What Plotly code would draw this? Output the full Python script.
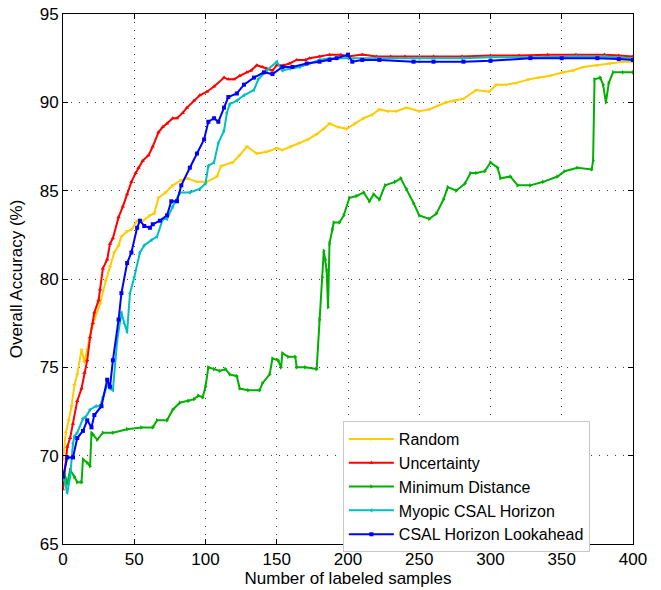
import plotly.graph_objects as go

# ---- data ----
random_x = [0, 2, 4, 6, 8, 10, 13, 15, 17, 20, 22, 26, 30, 33, 36, 39, 41, 45, 48, 52, 56, 61, 64, 67, 72, 77, 83, 87, 94, 101, 108, 111, 119, 124, 129, 136, 143, 150, 154, 160, 166, 172, 178, 183, 187, 193, 199, 205, 211, 217, 222, 228, 234, 241, 250, 257, 263, 269, 275, 281, 290, 299, 304, 311, 318, 327, 334, 342, 351, 358, 365, 375, 384, 393, 400]
random_y = [69.8, 71.3, 72.0, 72.8, 74.0, 74.6, 76.0, 75.3, 76.0, 77.2, 77.7, 78.6, 79.9, 80.7, 81.5, 81.9, 82.4, 82.7, 82.8, 83.3, 83.3, 83.6, 83.7, 84.6, 84.9, 85.3, 85.6, 85.7, 85.5, 85.5, 85.8, 86.4, 86.6, 87.0, 87.5, 87.1, 87.2, 87.4, 87.3, 87.5, 87.7, 87.9, 88.2, 88.5, 88.8, 88.6, 88.5, 88.8, 89.1, 89.3, 89.6, 89.5, 89.5, 89.7, 89.5, 89.6, 89.8, 90.0, 90.1, 90.2, 90.7, 90.6, 91.0, 91.0, 91.1, 91.3, 91.4, 91.5, 91.7, 91.8, 92.0, 92.1, 92.2, 92.3, 92.3]

unc_x = [0, 1, 3, 5, 7, 10, 13, 15, 17, 19, 21, 22, 25, 26, 28, 31, 33, 35, 39, 42, 45, 48, 51, 53, 56, 60, 63, 67, 70, 73, 77, 80, 84, 87, 92, 96, 101, 106, 113, 116, 120, 124, 129, 132, 136, 140, 143, 147, 150, 155, 159, 164, 170, 173, 180, 187, 195, 200, 210, 220, 230, 240, 260, 280, 300, 320, 340, 360, 380, 390, 400]
unc_y = [68.1, 68.8, 70.5, 71.0, 71.8, 73.1, 73.8, 74.7, 75.4, 76.7, 77.5, 78.1, 78.8, 79.4, 80.6, 81.1, 82.0, 82.3, 83.5, 84.1, 84.8, 85.5, 86.0, 86.3, 86.7, 87.0, 87.5, 88.3, 88.6, 88.8, 89.1, 89.1, 89.4, 89.7, 90.1, 90.4, 90.6, 90.9, 91.4, 91.3, 91.3, 91.5, 91.7, 91.8, 92.1, 92.0, 91.9, 91.8, 92.1, 92.1, 92.2, 92.4, 92.4, 92.5, 92.6, 92.7, 92.7, 92.6, 92.7, 92.6, 92.6, 92.6, 92.6, 92.6, 92.65, 92.65, 92.7, 92.7, 92.7, 92.65, 92.6]

mind_x = [0, 1, 3, 5, 8, 10, 13, 14, 17, 19, 20, 21, 24, 28, 35, 45, 55, 63, 66, 73, 77, 82, 88, 92, 95, 98, 100, 102, 106, 110, 114, 117, 122, 124, 130, 138, 140, 145, 147, 151, 153, 154, 158, 163, 164, 170, 178, 180, 182, 183, 184, 185, 186, 187, 189, 190, 194, 197, 201, 206, 211, 215, 218, 222, 226, 233, 237, 241, 246, 250, 257, 262, 267, 270, 276, 282, 286, 290, 296, 300, 305, 307, 314, 319, 328, 337, 347, 352, 361, 371, 372, 373, 377, 379, 381, 383, 386, 393, 400]
mind_y = [68.6, 69.0, 68.4, 69.2, 68.8, 68.5, 68.5, 69.8, 69.6, 69.4, 71.3, 71.2, 70.9, 71.3, 71.3, 71.5, 71.6, 71.6, 72.0, 72.0, 72.6, 73.0, 73.1, 73.2, 73.4, 73.3, 73.9, 75.0, 74.9, 74.8, 74.9, 74.6, 74.5, 73.8, 73.7, 73.7, 74.1, 74.6, 75.5, 75.4, 75.0, 75.8, 75.6, 75.6, 75.0, 75.0, 74.9, 77.7, 80.1, 81.6, 81.1, 80.5, 78.4, 82.0, 82.8, 83.2, 83.2, 83.6, 84.6, 84.7, 84.9, 84.4, 84.8, 84.5, 85.3, 85.5, 85.7, 85.1, 84.3, 83.6, 83.4, 83.7, 84.5, 85.2, 85.0, 85.4, 86.0, 86.0, 86.1, 86.6, 86.3, 85.7, 85.8, 85.3, 85.3, 85.5, 85.8, 86.1, 86.3, 86.2, 86.7, 91.3, 91.4, 91.0, 90.0, 91.1, 91.7, 91.7, 91.7]

myo_x = [0, 1, 3, 5, 7, 8, 10, 14, 16, 19, 23, 26, 28, 31, 33, 35, 38, 41, 43, 45, 47, 50, 54, 57, 62, 66, 70, 73, 77, 82, 89, 96, 100, 102, 106, 109, 113, 115, 117, 122, 127, 134, 137, 143, 150, 154, 159, 166, 173, 180, 187, 200, 220, 250, 280, 300, 330, 360, 380, 400]
myo_y = [68.8, 68.6, 67.9, 68.8, 70.7, 71.1, 71.3, 72.1, 72.2, 72.6, 72.8, 72.8, 73.3, 74.0, 73.8, 73.7, 76.5, 78.1, 77.5, 77.0, 79.2, 80.1, 81.5, 81.9, 82.2, 82.4, 83.4, 83.4, 84.1, 84.9, 84.9, 85.1, 85.4, 86.4, 86.6, 87.7, 88.4, 89.4, 89.9, 90.1, 90.4, 90.7, 91.3, 91.8, 92.3, 91.8, 91.9, 92.0, 92.2, 92.4, 92.5, 92.5, 92.5, 92.5, 92.5, 92.55, 92.55, 92.6, 92.6, 92.5]

look_x = [0, 3, 7, 10, 14, 17, 20, 22, 27, 31, 33, 35, 39, 41, 45, 48, 52, 54, 57, 61, 63, 68, 73, 76, 80, 83, 89, 94, 99, 102, 106, 109, 113, 116, 122, 127, 134, 141, 147, 154, 161, 171, 180, 187, 192, 200, 203, 210, 222, 246, 260, 281, 300, 328, 350, 375, 390, 400]
look_y = [68.8, 69.9, 69.9, 71.0, 71.4, 72.0, 71.6, 72.3, 72.8, 74.3, 73.9, 75.4, 77.7, 79.2, 80.9, 81.5, 82.9, 83.3, 83.0, 82.9, 83.1, 83.3, 83.6, 84.4, 84.4, 85.3, 86.3, 87.1, 87.9, 88.9, 89.1, 88.9, 89.7, 90.3, 90.5, 91.0, 91.4, 91.7, 91.6, 92.0, 92.0, 92.2, 92.3, 92.4, 92.5, 92.7, 92.3, 92.4, 92.4, 92.3, 92.3, 92.3, 92.35, 92.5, 92.5, 92.5, 92.45, 92.4]

names = ["Random", "Uncertainty", "Minimum Distance", "Myopic CSAL Horizon", "CSAL Horizon Lookahead"]
x_ticks = [0, 50, 100, 150, 200, 250, 300, 350, 400]
y_ticks = [65, 70, 75, 80, 85, 90, 95]

series = [
    (random_x, random_y, "#FFCC00", "triangle-down"),
    (unc_x, unc_y, "#FF0000", "triangle-up"),
    (mind_x, mind_y, "#00B000", "triangle-right"),
    (myo_x, myo_y, "#00BFBF", "triangle-left"),
    (look_x, look_y, "#0000FF", "square"),
]

fig = go.Figure()
for (xs, ys, col, sym), nm in zip(series, names):
    fig.add_trace(go.Scatter(
        x=xs, y=ys, name=nm, mode="lines+markers",
        line=dict(color=col, width=2),
        marker=dict(symbol=sym, size=4, color=col),
    ))

font_family = "Liberation Sans, Arial, Helvetica, sans-serif"
axis_common = dict(
    showline=True, linecolor="black", linewidth=1, mirror="ticks",
    ticks="inside", ticklen=5, tickcolor="black",
    showgrid=True, gridcolor="#444444", gridwidth=1, griddash="1px,7px",
    zeroline=False, automargin=False, ticklabeloverflow="allow",
    tickfont=dict(size=17, color="black", family=font_family),
)

fig.update_layout(
    width=661, height=590,
    margin=dict(l=63, r=28, t=14, b=46),
    paper_bgcolor="white", plot_bgcolor="white",
    font=dict(family=font_family, color="black", size=17),
    xaxis=dict(range=[0, 400], tickvals=x_ticks,
               title=dict(text="Number of labeled samples", font=dict(size=17), standoff=2),
               **axis_common),
    yaxis=dict(range=[65, 95], tickvals=y_ticks,
               title=dict(text="Overall Accuracy (%)", font=dict(size=17), standoff=12),
               **axis_common),
    legend=dict(x=0.491, y=0.232, xanchor="left", yanchor="top",
                bgcolor="white", bordercolor="#C8C8C8", borderwidth=1,
                font=dict(size=16, color="black"), tracegroupgap=0,
                itemwidth=45),
    showlegend=True,
)

# remove the default 8px page margin so the figure fills the window exactly
fig.write_html("out.html", config={"displayModeBar": False},
               post_script="document.body.style.margin='0px';document.body.style.overflow='hidden';")
